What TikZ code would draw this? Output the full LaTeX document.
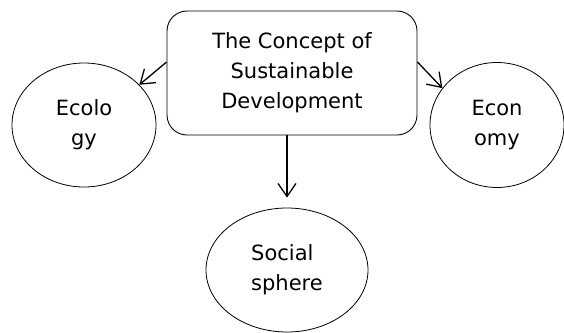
\documentclass[tikz,border=0pt]{standalone}
\usepackage{fontspec}
\setmainfont{DejaVu Sans}
\usetikzlibrary{shapes.geometric,arrows.meta}
\begin{document}
\begin{tikzpicture}[x=1pt,y=-1pt,
  txt/.style={font=\fontsize{21}{30}\selectfont, align=center},
  mainbox/.style={draw, line width=0.9pt, rounded corners=20pt, minimum width=250pt, minimum height=124pt, inner sep=0pt, txt},
  oval/.style={draw, ellipse, line width=0.8pt, inner sep=0pt, txt},
  arr/.style={line width=1.3pt, -{Straight Barb[length=13pt,width=18pt,line width=1.3pt]}}
]
\useasboundingbox (0,0) rectangle (564,332);
\node[mainbox] (box) at (292,73) {The Concept of\\Sustainable\\Development};
\node[oval, minimum width=144pt, minimum height=124pt] (ecol) at (84,125) {Ecolo\\gy};
\node[oval, minimum width=134pt, minimum height=125pt] (econ) at (497,125) {Econ\\omy};
\node[oval, minimum width=162pt, minimum height=124pt, align=left] (soc) at (287,270) {Social\\sphere};
\draw[arr] (box.175) -- (ecol.36);
\draw[arr] (box.5) -- (econ.146);
\draw[arr] (box.south -| soc.north) -- ([yshift=10pt]soc.north);
\end{tikzpicture}
\end{document}
